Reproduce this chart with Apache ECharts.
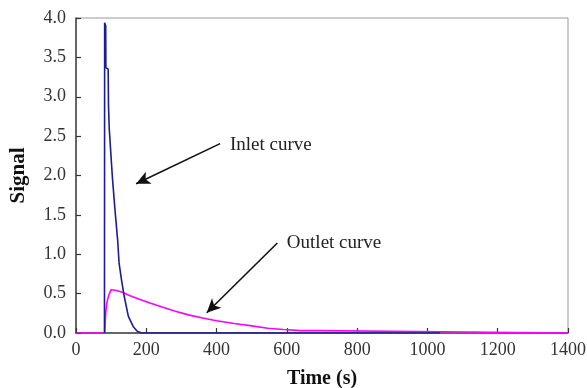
<!DOCTYPE html>
<html>
<head>
<meta charset="utf-8">
<script src="https://cdn.jsdelivr.net/npm/echarts@6/dist/echarts.min.js"></script>
<style>
  html, body { margin: 0; padding: 0; background: #fff; }
  #chart { width: 587px; height: 388px; }
</style>
</head>
<body>
<div id="chart"></div>
<script>
// Tracer response: inlet pulse and outlet curve
var inletTime   = [81, 81.5, 84.5, 85, 91.5, 92.5, 94.5, 103.5, 111, 118.5, 122.5, 130, 137.5, 149, 163, 175, 187, 1036];
var inletSignal = [0, 3.94, 3.90, 3.37, 3.35, 2.89, 2.60, 1.98, 1.56, 1.18, 0.89, 0.66, 0.46, 0.21, 0.08, 0.02, 0, 0];

var outletTime   = [0, 82, 83, 84.5, 87, 90, 95, 100, 104, 115, 130, 150, 180, 210, 245, 280, 320, 360, 400, 450, 500, 545, 590, 640, 694, 695, 1036, 1037, 1400];
var outletSignal = [0, 0, 0.12, 0.25, 0.36, 0.43, 0.50, 0.55, 0.56, 0.54, 0.52, 0.48, 0.43, 0.38, 0.33, 0.28, 0.23, 0.19, 0.155, 0.12, 0.09, 0.06, 0.045, 0.03, 0.03, 0.015, 0.015, 0, 0];

var xTicks = [0, 200, 400, 600, 800, 1000, 1200, 1400];
var yTicks = [0, 0.5, 1.0, 1.5, 2.0, 2.5, 3.0, 3.5, 4.0];

// Annotation arrows (tail -> head) and label anchors, in data units
var inletArrow  = [[410, 2.405], [171, 1.895]];
var inletLabel  = [438, 2.39];
var outletArrow = [[573, 1.143], [372, 0.257]];
var outletLabel = [600, 1.14];

function pairs(xs, ys) {
  return xs.map(function (x, i) { return [x, ys[i]]; });
}

var font = '"Liberation Serif", "Times New Roman", serif';

var arrowLine = function (pts) {
  return {
    silent: true,
    symbol: ['none', 'arrow'],
    symbolSize: [10, 14],
    lineStyle: { color: '#111', width: 1.6, type: 'solid' },
    label: { show: false },
    data: [[{ coord: pts[0] }, { coord: pts[1] }]]
  };
};

var textPoint = function (pt, text) {
  return {
    silent: true,
    symbol: 'circle',
    symbolSize: 0,
    data: [{
      coord: pt,
      label: {
        show: true, position: 'right', distance: 0,
        formatter: text, color: '#222', fontFamily: font, fontSize: 19
      }
    }]
  };
};

var chart = echarts.init(document.getElementById('chart'), null, { renderer: 'canvas' });
chart.setOption({
  animation: false,
  backgroundColor: '#fff',
  grid: {
    left: 76, right: 19, top: 18, bottom: 55,
    containLabel: false, outerBoundsMode: 'none',
    show: true, borderColor: '#999', borderWidth: 1
  },
  xAxis: {
    type: 'value',
    min: xTicks[0], max: xTicks[xTicks.length - 1], interval: 200,
    name: 'Time (s)', nameLocation: 'middle', nameGap: 36,
    nameTextStyle: { fontFamily: font, fontWeight: 'bold', fontSize: 20, color: '#111' },
    axisLine: { show: true, lineStyle: { color: '#444', width: 1.5 } },
    axisTick: { show: true, inside: true, length: 5, lineStyle: { color: '#333', width: 1.2 } },
    axisLabel: {
      fontFamily: font, fontSize: 18, color: '#333', margin: 8,
      formatter: function (v) { return String(v); }
    },
    splitLine: { show: false }
  },
  yAxis: {
    type: 'value',
    min: yTicks[0], max: yTicks[yTicks.length - 1], interval: 0.5,
    name: 'Signal', nameLocation: 'middle', nameGap: 47, nameRotate: 90,
    nameTextStyle: { fontFamily: font, fontWeight: 'bold', fontSize: 21, color: '#111' },
    axisLine: { show: true, lineStyle: { color: '#444', width: 1.5 } },
    axisTick: { show: true, inside: true, length: 5, lineStyle: { color: '#333', width: 1.2 } },
    axisLabel: {
      fontFamily: font, fontSize: 18, color: '#333', margin: 10,
      formatter: function (v) { return v.toFixed(1); }
    },
    splitLine: { show: false }
  },
  series: [
    {
      name: 'Outlet',
      type: 'line',
      data: pairs(outletTime, outletSignal),
      showSymbol: false,
      lineStyle: { color: '#ff00ff', width: 1.6 },
      itemStyle: { color: '#ff00ff' },
      z: 2,
      markLine: arrowLine(outletArrow),
      markPoint: textPoint(outletLabel, 'Outlet curve')
    },
    {
      name: 'Inlet',
      type: 'line',
      data: pairs(inletTime, inletSignal),
      showSymbol: false,
      lineStyle: { color: '#1c1c96', width: 1.6 },
      itemStyle: { color: '#1c1c96' },
      z: 3,
      markLine: arrowLine(inletArrow),
      markPoint: textPoint(inletLabel, 'Inlet curve')
    }
  ]
});
</script>
</body>
</html>
